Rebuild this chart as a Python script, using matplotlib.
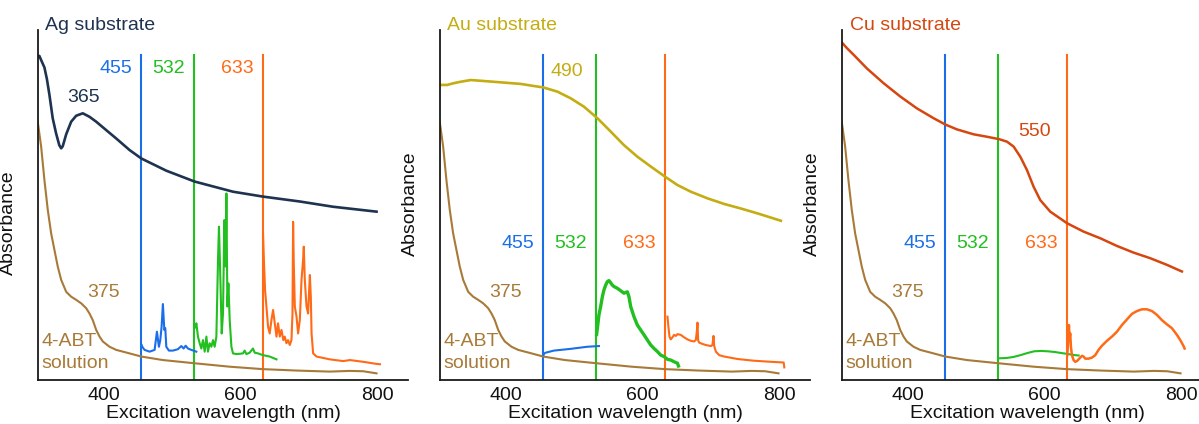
import matplotlib
matplotlib.use("Agg")
import matplotlib.pyplot as plt

plt.rcParams['font.family'] = ['Liberation Sans', 'DejaVu Sans']

# ---------------- data ----------------
lasers = [455, 532, 633]
laser_labels = ["455", "532", "633"]

# 4-ABT solution absorbance (same in all panels)
abt_nm = [303.6, 308.6, 313.4, 318.3, 323.2, 328.1, 332.9, 337.9, 345.2, 352.5, 359.8, 367.2,
          374.5, 379.3, 384.1, 389.1, 394, 398.8, 408.6, 418.4, 437.9, 455, 486.6, 532, 584.3,
          633, 682, 730.7, 760, 779.5, 799]
abt_abs = [0.738, 0.667, 0.571, 0.486, 0.419, 0.371, 0.324, 0.286, 0.252, 0.238, 0.229, 0.219,
           0.205, 0.190, 0.171, 0.143, 0.124, 0.110, 0.095, 0.086, 0.076, 0.067, 0.057, 0.048, 0.038,
           0.031, 0.027, 0.024, 0.026, 0.025, 0.019]

# Ag substrate
ag_nm = [303.6, 306, 308.6, 313.4, 317, 320.7, 325.5, 330.4, 335.1, 337.9, 340.2, 345.2, 352.5, 359.8,
         369.5, 379.3, 389.1, 403.7, 418.4, 437.9, 455, 491.6, 533, 589.1, 633, 686.8, 735.5, 799]
ag_abs = [0.924, 0.926, 0.914, 0.893, 0.86, 0.815, 0.748, 0.705, 0.671, 0.662, 0.668, 0.702, 0.738, 0.755,
          0.762, 0.752, 0.738, 0.714, 0.690, 0.657, 0.633, 0.598, 0.567, 0.538, 0.524, 0.510, 0.495, 0.481]

ag455_nm = [455.5, 456.5, 459.8, 467.2, 474.5, 477.9, 480.8, 482.8, 484.7, 486.6, 488.7, 490.1, 491.6,
            495.4, 501.3, 508.6, 513.6, 516.9, 519.9, 523.2, 528.2, 535.5]
ag455_int = [0.10, 0.095, 0.086, 0.081, 0.086, 0.138, 0.095, 0.114, 0.152, 0.217, 0.143, 0.148, 0.095,
             0.084, 0.084, 0.088, 0.097, 0.090, 0.098, 0.090, 0.086, 0.081]

ag532_nm = [534.5, 535.5, 537.9, 540.4, 542.8, 545.2, 547.7, 550.2, 552.5, 555, 557.5, 559.9, 562.3,
            564.8, 567.2, 568.6, 570.7, 572.6, 574.5, 576.5, 578.4, 579.5, 580.9, 582.4, 584.3, 586.8,
            589.1, 594.1, 603.8, 606.2, 608.7, 613.5, 618.3, 620.9, 625.7, 633, 642.8, 652.7]
ag532_int = [0.15, 0.162, 0.124, 0.105, 0.090, 0.114, 0.081, 0.124, 0.081, 0.105, 0.095, 0.114, 0.095,
             0.124, 0.343, 0.438, 0.286, 0.133, 0.190, 0.457, 0.324, 0.533, 0.210, 0.276, 0.171, 0.095,
             0.076, 0.074, 0.076, 0.084, 0.074, 0.078, 0.090, 0.078, 0.076, 0.071, 0.067, 0.059]

ag633_nm = [633, 634.5, 636, 638, 640.4, 642.8, 645.3, 647.7, 650.2, 652.7, 655, 657.5, 660, 662.7,
            664.8, 667.3, 669.6, 672.1, 674.6, 676.1, 677, 678, 679.5, 682, 684.3, 686.8, 689.3, 691.6,
            692.6, 694.1, 696.6, 698.9, 701.5, 702.9, 704, 706.3, 711.3, 730.7, 750.2, 760, 779.5,
            789.3, 799.1, 804]
ag633_int = [0.419, 0.333, 0.257, 0.210, 0.152, 0.133, 0.171, 0.200, 0.162, 0.124, 0.162, 0.124, 0.143,
             0.114, 0.124, 0.105, 0.114, 0.100, 0.114, 0.190, 0.452, 0.333, 0.210, 0.181, 0.133, 0.171,
             0.286, 0.343, 0.381, 0.286, 0.210, 0.190, 0.300, 0.238, 0.133, 0.076, 0.067, 0.059, 0.054,
             0.057, 0.052, 0.049, 0.046, 0.045]

# Au substrate
au_nm = [304.6, 314.4, 324.1, 333.9, 348.6, 363.2, 382.7, 402.3, 421.8, 441.2, 455, 475.5, 495,
         514.4, 534.1, 553.5, 573, 592.6, 612.1, 633, 651.2, 670.7, 695.1, 719.5, 743.9, 768.3, 783, 802.4]
au_abs = [0.843, 0.843, 0.848, 0.852, 0.857, 0.855, 0.852, 0.849, 0.846, 0.840, 0.836, 0.824, 0.805,
          0.781, 0.748, 0.710, 0.671, 0.638, 0.610, 0.581, 0.557, 0.538, 0.519, 0.503, 0.490, 0.476,
          0.467, 0.455]

au455_nm = [455.5, 456.5, 458.4, 470.5, 495, 519.4, 536.4]
au455_int = [0.072, 0.076, 0.078, 0.084, 0.089, 0.095, 0.097]

au532_nm = [533, 535, 536.4, 538.9, 541.4, 543.7, 546.2, 548.7, 551, 553.5, 556, 558.4, 563.3, 568.2,
            573, 577.9, 580.3, 582.8, 587.6, 592.6, 597.4, 602.3, 607.3, 612.1, 617, 622, 626.8,
            631.6, 636.6, 641.4, 646.3, 651.2, 652.7]
au532_int = [0.13, 0.162, 0.186, 0.210, 0.238, 0.257, 0.271, 0.281, 0.284, 0.278, 0.271, 0.267, 0.262,
             0.255, 0.248, 0.252, 0.238, 0.210, 0.181, 0.157, 0.143, 0.129, 0.114, 0.100, 0.090, 0.081,
             0.071, 0.067, 0.059, 0.057, 0.052, 0.048, 0.040]

au633_nm = [636.6, 638, 639.5, 641.4, 643.9, 646.3, 648.8, 651.2, 656, 660.9, 665.8, 670.7, 675.5,
            678, 679.5, 680.5, 681.4, 682.8, 687.8, 692.6, 700, 702.4, 703.9, 704.9, 707.4, 712.2,
            719.5, 739.1, 763.5, 787.9, 806.5, 807.4]
au633_int = [0.181, 0.152, 0.124, 0.116, 0.122, 0.129, 0.126, 0.131, 0.129, 0.122, 0.116, 0.112, 0.110,
             0.114, 0.138, 0.164, 0.114, 0.107, 0.103, 0.100, 0.097, 0.100, 0.126, 0.097, 0.081, 0.071,
             0.067, 0.060, 0.055, 0.052, 0.050, 0.036]

# Cu substrate
cu_nm = [304.9, 311.3, 321.1, 340.5, 364.8, 389.2, 413.6, 437.9, 455, 472.1, 496.4, 516, 534, 545.2,
         554.9, 564.7, 574.4, 584.2, 593.9, 608.5, 633, 657.2, 681.6, 706, 730.3, 754.7, 779.1, 801]
cu_abs = [0.962, 0.948, 0.929, 0.890, 0.848, 0.810, 0.776, 0.748, 0.730, 0.716, 0.702, 0.695, 0.688,
          0.681, 0.667, 0.638, 0.600, 0.552, 0.514, 0.481, 0.448, 0.424, 0.405, 0.383, 0.364, 0.348,
          0.329, 0.310]

cu532_nm = [534, 545, 555, 565, 575, 585, 595, 605, 615, 625, 635, 645, 650]
cu532_int = [0.062, 0.063, 0.066, 0.071, 0.077, 0.082, 0.083, 0.082, 0.080, 0.077, 0.074, 0.071, 0.070]

cu633_nm = [633.4, 634.8, 635.8, 636.7, 637.7, 638.7, 640.2, 642.6, 645.1, 647.5, 651.4, 654.8, 657.2,
            659.7, 664.5, 669.5, 674.3, 679.1, 684.1, 691.4, 698.7, 706, 713.3, 720.6, 728, 735.3,
            742.6, 749.9, 757.2, 764.5, 771.8, 779.1, 786.4, 793.7, 798.6, 803.4, 804.9]
cu633_int = [0.071, 0.114, 0.157, 0.119, 0.133, 0.095, 0.071, 0.057, 0.052, 0.054, 0.062, 0.069, 0.067,
             0.061, 0.061, 0.064, 0.071, 0.086, 0.098, 0.112, 0.124, 0.138, 0.157, 0.173, 0.189, 0.197,
             0.202, 0.202, 0.197, 0.186, 0.171, 0.159, 0.148, 0.129, 0.114, 0.097, 0.090]

# ---------------- styles ----------------
C_BLUE = "#1a6fe8"
C_GREEN = "#21bf1f"
C_ORANGE = "#ff6a17"
C_BROWN = "#a87a38"
C_AG = "#1d3350"
C_AU = "#c4ad12"
C_CU = "#d5470f"
laser_colors = [C_BLUE, C_GREEN, C_ORANGE]

W, H = 1199, 424
fig = plt.figure(figsize=(W / 100, H / 100), dpi=100)

XMIN, XMAX = 304, 845
FS = 14

def make_ax(left_px, ylabel_y):
    ax = fig.add_axes([left_px / W, 44 / H, 370 / W, 350 / H])
    ax.set_xlim(XMIN, XMAX)
    ax.set_ylim(0, 1)
    for s in ("top", "right"):
        ax.spines[s].set_visible(False)
    for s in ("left", "bottom"):
        ax.spines[s].set_color("#1a1a1a")
        ax.spines[s].set_linewidth(1.3)
    ax.set_yticks([])
    ax.set_xticks([400, 600, 800])
    ax.tick_params(axis="x", length=0, pad=5, labelsize=FS, colors="#111111")
    ax.set_xlabel("Excitation wavelength (nm)", fontsize=FS, labelpad=1, color="#111111")
    ax.set_ylabel("Absorbance", fontsize=FS, color="#111111")
    ax.yaxis.set_label_coords(-21 / 370, ylabel_y)
    return ax

def common(ax, lab_y, vtop):
    for x, c in zip(lasers, laser_colors):
        ax.plot([x, x], [0, vtop], color=c, lw=1.5, zorder=2)
    ax.plot(abt_nm, abt_abs, color=C_BROWN, lw=1.5, zorder=3)
    for x, c, t in zip(lasers, laser_colors, laser_labels):
        ax.text(x - 13, lab_y, t, color=c, fontsize=FS, ha="right", va="center")
    ax.text(400, 0.249, "375", color=C_BROWN, fontsize=FS, ha="center", va="center")
    ax.text(309, 0.111, "4-ABT", color=C_BROWN, fontsize=FS, ha="left", va="center")
    ax.text(309, 0.048, "solution", color=C_BROWN, fontsize=FS, ha="left", va="center")

# Panel Ag
ax1 = make_ax(38, 0.449)
common(ax1, 0.891, 0.928)
ax1.plot(ag_nm, ag_abs, color=C_AG, lw=1.9, zorder=4)
ax1.plot(ag455_nm, ag455_int, color=C_BLUE, lw=1.5, zorder=4)
ax1.plot(ag532_nm, ag532_int, color=C_GREEN, lw=1.5, zorder=4)
ax1.plot(ag633_nm, ag633_int, color=C_ORANGE, lw=1.5, zorder=4)
ax1.text(7 / 370, 1.014, "Ag substrate", transform=ax1.transAxes, color=C_AG, fontsize=FS,
         ha="left", va="center")
ax1.text(371, 0.806, "365", color=C_AG, fontsize=FS, ha="center", va="center")

# Panel Au
ax2 = make_ax(440, 0.503)
common(ax2, 0.389, 0.928)
ax2.plot(au_nm, au_abs, color=C_AU, lw=1.9, zorder=4)
ax2.plot(au455_nm, au455_int, color=C_BLUE, lw=1.5, zorder=4)
ax2.plot(au532_nm, au532_int, color=C_GREEN, lw=2.4, zorder=4)
ax2.plot(au633_nm, au633_int, color=C_ORANGE, lw=1.5, zorder=4)
ax2.text(7 / 370, 1.014, "Au substrate", transform=ax2.transAxes, color=C_AU, fontsize=FS,
         ha="left", va="center")
ax2.text(465, 0.880, "490", color=C_AU, fontsize=FS, ha="left", va="center")

# Panel Cu
ax3 = make_ax(842, 0.503)
common(ax3, 0.389, 0.928)
ax3.plot(cu_nm, cu_abs, color=C_CU, lw=1.8, zorder=4)
ax3.plot(cu532_nm, cu532_int, color=C_GREEN, lw=1.5, zorder=4)
ax3.plot(cu633_nm, cu633_int, color=C_ORANGE, lw=1.8, zorder=4)
ax3.text(8 / 370, 1.014, "Cu substrate", transform=ax3.transAxes, color=C_CU, fontsize=FS,
         ha="left", va="center")
ax3.text(561, 0.709, "550", color=C_CU, fontsize=FS, ha="left", va="center")

for ax in (ax1, ax2, ax3):
    ax.spines["left"].set_zorder(5)
    ax.spines["bottom"].set_zorder(5)
    for s in ax.spines.values():
        s.set_clip_on(False)
    ax.set_clip_on(False)

fig.savefig("out.png", dpi=100)
